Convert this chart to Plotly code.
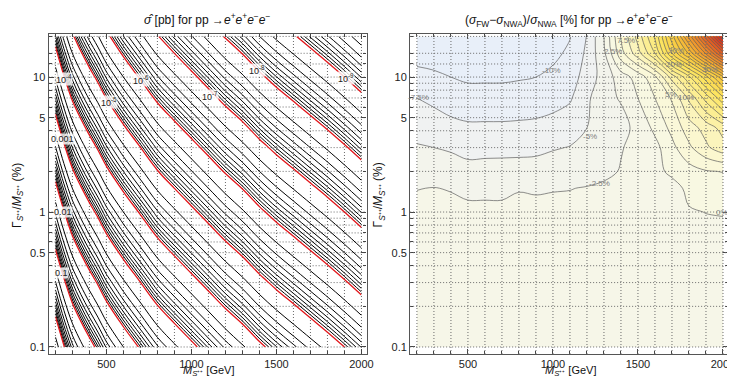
import numpy as np
import plotly.graph_objects as go

# ---------------- data ----------------
# Left panel: log10(sigma_hat / pb) on a (mass, width) grid
mass_left = [200, 250, 300, 350, 400, 450, 500, 600, 700, 800, 900, 1000,
             1100, 1200, 1300, 1400, 1500, 1600, 1700, 1800, 1900, 2000]
width_left = [0.1, 0.316, 1.0, 3.16, 10.0, 20.0]   # Gamma/M in %
logsigma_rows = [
    [0.45, 0.02, -0.35, -0.62, -0.86, -1.08, -1.32, -1.70, -2.04, -2.38, -2.65, -2.91, -3.17, -3.43, -3.66, -3.92, -4.15, -4.36, -4.57, -4.78, -5.00, -5.23],
    [-0.55, -0.98, -1.35, -1.62, -1.86, -2.08, -2.32, -2.70, -3.04, -3.38, -3.65, -3.91, -4.17, -4.43, -4.66, -4.92, -5.15, -5.36, -5.57, -5.78, -6.00, -6.23],
    [-1.55, -1.98, -2.35, -2.62, -2.86, -3.08, -3.32, -3.70, -4.04, -4.38, -4.65, -4.91, -5.17, -5.43, -5.66, -5.92, -6.15, -6.36, -6.57, -6.78, -7.00, -7.23],
    [-2.55, -2.98, -3.35, -3.62, -3.86, -4.08, -4.32, -4.70, -5.04, -5.38, -5.65, -5.91, -6.17, -6.43, -6.66, -6.92, -7.15, -7.36, -7.57, -7.78, -8.00, -8.23],
    [-3.55, -3.98, -4.35, -4.62, -4.86, -5.08, -5.32, -5.70, -6.04, -6.38, -6.65, -6.91, -7.17, -7.43, -7.66, -7.92, -8.15, -8.36, -8.57, -8.78, -9.00, -9.23],
    [-4.15, -4.58, -4.95, -5.22, -5.46, -5.68, -5.92, -6.30, -6.64, -6.98, -7.25, -7.51, -7.77, -8.03, -8.26, -8.52, -8.75, -8.96, -9.17, -9.38, -9.60, -9.83],
]
sigma_label_text = ["0.1", "0.01", "0.001", "10<sup>-4</sup>", "10<sup>-5</sup>",
                    "10<sup>-6</sup>", "10<sup>-7</sup>", "10<sup>-8</sup>", "10<sup>-9</sup>"]
sigma_label_mass = [238, 244, 244, 250, 517, 703, 1110, 1383, 1912]
sigma_label_width = [0.353, 1.0, 3.47, 9.66, 6.53, 9.5, 7.2, 11.3, 9.8]

# Right panel: relative difference (sigma_FW - sigma_NWA)/sigma_NWA in %
mass_right = [200, 300, 400, 500, 600, 700, 800, 900, 1000, 1100,
              1200, 1300, 1400, 1500, 1600, 1700, 1800, 1900, 2000]
width_right = [0.1, 0.5, 1.0, 1.5, 2.0, 3.0, 4.2, 7.0, 10.0, 15.0, 20.0]
diff_rows = [
    [-1.2, -1.2, -1.2, -1.2, -1.2, -1.2, -1.2, -1.2, -1.2, -1.2, -1.2, -1.2, -1.1, -1.0, -0.9, -0.8, -0.7, -0.6, -0.5],
    [-1.5, -1.5, -1.5, -1.5, -1.5, -1.5, -1.5, -1.5, -1.5, -1.5, -1.5, -1.5, -1.4, -1.2, -1.0, -0.8, -0.6, -0.5, -0.4],
    [-2.0, -2.0, -2.0, -2.1, -2.1, -2.1, -2.0, -2.0, -2.0, -2.0, -1.9, -1.8, -1.6, -1.3, -0.9, -0.5, -0.1, 0.02, 0.05],
    [-2.55, -2.45, -2.6, -2.9, -2.9, -2.9, -2.6, -2.7, -2.6, -2.55, -2.4, -2.2, -1.9, -1.5, -1.0, -0.5, 0.3, 0.8, 1.2],
    [-3.5, -3.5, -3.8, -4.2, -4.1, -4.1, -4.0, -3.95, -3.7, -3.5, -3.3, -2.9, -2.4, -1.6, -0.4, 0.3, 1.5, 2.3, 2.6],
    [-4.8, -5.0, -5.3, -5.8, -5.75, -5.7, -5.7, -5.6, -5.2, -4.9, -4.6, -4.0, -2.6, -2.0, -0.8, 1.8, 4.5, 7.0, 9.0],
    [-5.8, -6.4, -6.9, -7.1, -7.1, -7.1, -7.0, -6.9, -6.6, -6.0, -5.0, -4.2, -3.3, -1.8, 0.6, 3.2, 6.3, 8.5, 11.0],
    [-7.5, -8.0, -8.5, -9.0, -9.0, -9.0, -9.0, -8.8, -8.4, -7.8, -5.5, -3.2, -2.3, 0.0, 2.5, 5.3, 10.5, 16.0, 22.0],
    [-9.2, -9.6, -10.0, -10.4, -10.4, -10.4, -10.2, -10.0, -9.5, -8.7, -6.4, -4.0, -1.2, 1.0, 4.5, 11.0, 17.0, 24.0, 32.0],
    [-11.0, -11.0, -11.1, -11.2, -11.2, -11.2, -11.1, -10.9, -10.5, -9.6, -7.0, -3.0, 4.0, 9.0, 15.0, 25.0, 33.0, 43.0, 54.0],
    [-11.5, -11.5, -11.6, -11.7, -11.7, -11.7, -11.6, -11.4, -11.0, -10.1, -7.4, -2.5, 5.2, 11.0, 18.0, 29.0, 41.0, 54.0, 68.0],
]
diff_label_text = ["-10%", "-7.5%", "-5%", "-2.5%", "0%", "2.5%", "7.5%",
                   "5%", "10%", "20%", "30%", "30%"]
diff_label_mass = [994, 210, 1215, 1273, 1993, 1354, 1430,
                   1692, 1780, 1710, 1925, 1725]
diff_label_width = [11.1, 7.0, 3.65, 1.64, 0.99, 15.5, 18.6,
                    7.4, 7.0, 12.3, 11.3, 15.6]

x_ticks = [500, 1000, 1500, 2000]
y_ticks = [0.1, 0.5, 1, 5, 10]
y_tick_text = ["0.1", "0.5", "1", "5", "10"]
y_grid = [0.1, 0.2, 0.3, 0.4, 0.5, 0.6, 0.7, 0.8, 0.9, 1, 2, 3, 4, 5, 6, 7, 8, 9, 10, 12.5, 15, 20]
x_grid = list(range(200, 2001, 100))

# ---------------- styling ----------------
FONT = "Liberation Sans, Arial, sans-serif"
RED = "#e3161b"
LINE_GRAY = "#5f5f5f"
GRID = dict(color="#6a6a6a", width=1, dash="1px,2px")

fig = go.Figure()

# left panel: one trace per mantissa k (levels k*10^n, n=-10..0)
yl = np.log10(width_left)
for k in range(2, 10):
    lv = np.log10(k)
    fig.add_trace(go.Contour(
        x=mass_left, y=yl, z=logsigma_rows,
        contours=dict(start=lv - 10, end=lv + 0.001, size=1, coloring="none"),
        line=dict(color="black", width=1), showscale=False, hoverinfo="skip",
        xaxis="x", yaxis="y"))
fig.add_trace(go.Contour(
    x=mass_left, y=yl, z=logsigma_rows,
    contours=dict(start=-10, end=0.001, size=1, coloring="none"),
    line=dict(color=RED, width=1.3), showscale=False, hoverinfo="skip",
    xaxis="x", yaxis="y"))

# right panel: filled contours
stops = [(-12.5, "#e8eff9"), (-10, "#edf1f6"), (-7.5, "#f2f3ef"), (-5, "#f4f4ea"),
         (-2.5, "#f7f7e6"), (0, "#f9f9e0"), (5, "#fbf7cc"), (10, "#fcf0a0"),
         (20, "#fce45e"), (30, "#f7c53c"), (40, "#f09a2c"), (50, "#e46c26"),
         (60, "#d8401f"), (70, "#cc201c")]
zmin, zmax = stops[0][0], stops[-1][0]
cscale = [[(z - zmin) / (zmax - zmin), c] for z, c in stops]
fig.add_trace(go.Contour(
    x=mass_right, y=np.log10(width_right), z=diff_rows,
    zmin=zmin, zmax=zmax, colorscale=cscale, showscale=False,
    contours=dict(start=-10, end=70, size=2.5, coloring="fill"),
    line=dict(color=LINE_GRAY, width=0.7), hoverinfo="skip",
    xaxis="x2", yaxis="y2"))

# ---------------- axes ----------------
x_range = [160, 2030]
y_range = [-1.052, 1.319]
dom_left = [41 / 735, 362 / 735]
dom_right = [406 / 735, 727 / 735]
dom_y = [30 / 376, 350 / 376]

def xaxis(domain, anchor):
    return dict(domain=domain, anchor=anchor, range=x_range, tickvals=x_ticks,
                ticks="inside", ticklen=5, tickcolor="#444", showline=True,
                linecolor="#555", linewidth=1.2, mirror="ticks", zeroline=False,
                showgrid=False, tickfont=dict(family=FONT, size=11, color="#222"),
                minor=dict(tickvals=x_grid, ticks="inside", ticklen=3, tickcolor="#444",
                           showgrid=False))

def yaxis(domain, anchor):
    return dict(domain=domain, anchor=anchor, range=y_range,
                tickvals=list(np.log10(y_ticks)), ticktext=y_tick_text,
                ticks="inside", ticklen=5, tickcolor="#444", showline=True,
                linecolor="#555", linewidth=1.2, mirror="ticks", zeroline=False,
                showgrid=False, tickfont=dict(family=FONT, size=11, color="#222"),
                minor=dict(tickvals=list(np.log10(y_grid)), ticks="inside", ticklen=3,
                           tickcolor="#444", showgrid=False))

shapes = []
for xr, yr in (("x", "y"), ("x2", "y2")):
    layer = "below" if xr == "x" else "above"
    for gx in x_grid:
        shapes.append(dict(type="line", xref=xr, yref=yr, x0=gx, x1=gx,
                           y0=y_range[0], y1=y_range[1], layer=layer, line=GRID))
    for gy in y_grid:
        shapes.append(dict(type="line", xref=xr, yref=yr, x0=x_range[0], x1=x_range[1],
                           y0=float(np.log10(gy)), y1=float(np.log10(gy)),
                           layer=layer, line=GRID))

annotations = []
for t, m, w in zip(sigma_label_text, sigma_label_mass, sigma_label_width):
    annotations.append(dict(x=m, y=float(np.log10(w)), xref="x", yref="y", text=t,
                            showarrow=False, bgcolor="rgba(255,255,255,0.8)",
                            xanchor="center", yanchor="middle",
                            borderpad=0, font=dict(family=FONT, size=9, color="#222")))
for t, m, w in zip(diff_label_text, diff_label_mass, diff_label_width):
    annotations.append(dict(x=m, y=float(np.log10(w)), xref="x2", yref="y2", text=t,
                            showarrow=False, xanchor="center", yanchor="middle",
                            font=dict(family=FONT, size=8, color="#808080")))

ms = "<i>M</i><sub><i>S</i>⁺⁺</sub> [GeV]"
ylab = "Γ<sub><i>S</i>⁺⁺</sub>/<i>M</i><sub><i>S</i>⁺⁺</sub> (%)"
title_l = "<i>σ̂</i> [pb] for pp →<i>e</i><sup>+</sup><i>e</i><sup>+</sup><i>e</i><sup>−</sup><i>e</i><sup>−</sup>"
title_r = ("(<i>σ</i><sub>FW</sub>−<i>σ</i><sub>NWA</sub>)/<i>σ</i><sub>NWA</sub> [%] for pp →"
           "<i>e</i><sup>+</sup><i>e</i><sup>+</sup><i>e</i><sup>−</sup><i>e</i><sup>−</sup>")

def paper_text(xp, yp, text, angle=0, size=12, yanchor="middle"):
    return dict(x=xp / 735, y=1 - yp / 376, xref="paper", yref="paper", text=text,
                textangle=angle, showarrow=False, xanchor="center", yanchor=yanchor,
                font=dict(family=FONT, size=size, color="#111"))

annotations += [
    paper_text(201, 11, title_l),
    paper_text(566, 12, title_r),
    paper_text(203, 372, ms, size=11, yanchor="bottom"),
    paper_text(568, 372, ms, size=11, yanchor="bottom"),
    paper_text(10, 187, ylab, -90),
    paper_text(375, 187, ylab, -90),
]

fig.update_layout(
    width=735, height=376, margin=dict(l=0, r=0, t=0, b=0),
    paper_bgcolor="white", plot_bgcolor="white", showlegend=False,
    xaxis=xaxis(dom_left, "y"), yaxis=yaxis(dom_y, "x"),
    xaxis2=xaxis(dom_right, "y2"), yaxis2=yaxis(dom_y, "x2"),
    shapes=shapes, annotations=annotations,
)
fig.write_html("out.html")
